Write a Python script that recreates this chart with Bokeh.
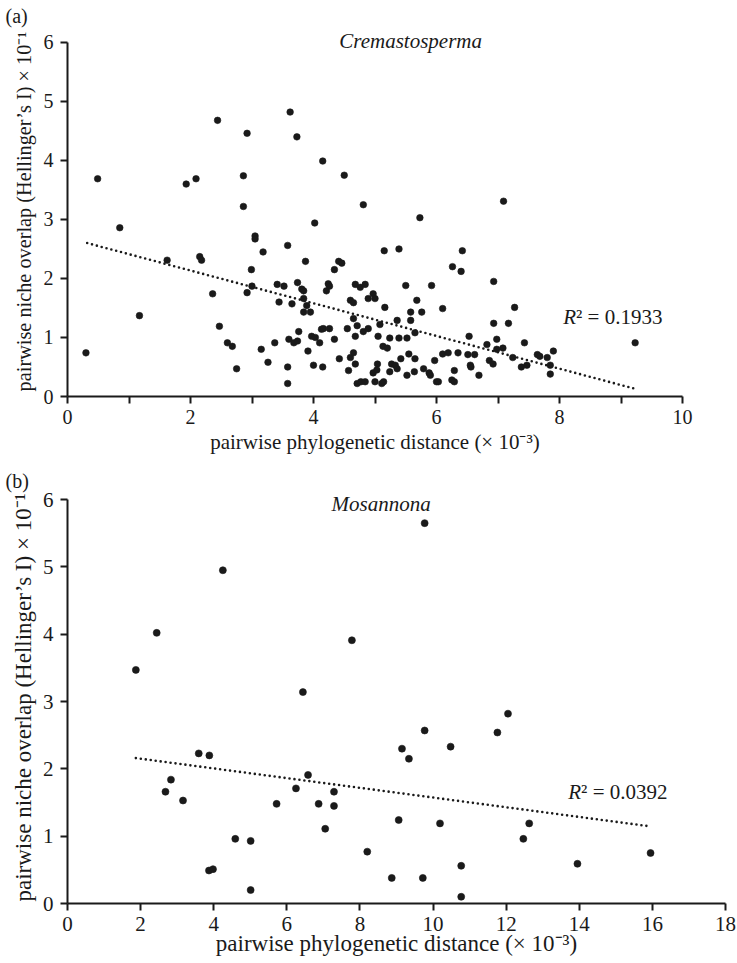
from bokeh.plotting import figure
from bokeh.layouts import column
from bokeh.models import Range1d, FixedTicker, Label
from bokeh.embed import file_html
from bokeh.resources import INLINE

# ---------------- data: (a) Cremastosperma ----------------
a_dist = [0.30, 0.49, 0.85, 1.17, 1.62, 1.93, 2.09, 2.15, 2.18, 2.36, 2.44, 2.47, 2.60, 2.68, 2.75,
          2.86, 2.86, 2.92, 2.92, 2.99, 3.00, 3.05, 3.05, 3.15, 3.18, 3.26, 3.37, 3.41, 3.44, 3.52,
          3.58, 3.58, 3.58, 3.60, 3.62, 3.65, 3.68, 3.74, 3.73, 3.74, 3.76, 3.81, 3.84, 3.84, 3.84,
          3.87, 3.89, 3.91, 3.95,
          3.97, 4.03, 4.00, 4.02, 4.10, 4.13, 4.16, 4.15, 4.15, 4.21, 4.24, 4.26, 4.26, 4.34, 4.34,
          4.41, 4.46, 4.42, 4.50, 4.55, 4.57, 4.60, 4.65, 4.60, 4.65, 4.65, 4.68, 4.76, 4.84, 4.68,
          4.71, 4.68, 4.71, 4.77, 4.84, 4.81, 4.81, 4.89, 4.89, 4.97, 5.00, 5.00, 4.97, 5.04, 5.03,
          5.05, 5.08, 5.11, 5.14, 5.15, 5.16, 5.13, 5.20, 5.24, 5.24, 5.27, 5.33, 5.36, 5.36, 5.39,
          5.39, 5.42, 5.50, 5.52, 5.52, 5.55, 5.58, 5.58, 5.64, 5.65, 5.65, 5.68, 5.73, 5.76, 5.79,
          5.88, 5.90, 5.92, 5.97, 6.00, 6.03, 6.10, 6.10, 6.19, 6.26, 6.25, 6.29, 6.29, 6.35, 6.40,
          6.42, 6.51, 6.62, 6.53, 6.55, 6.56, 6.69, 6.82, 6.86, 6.92, 6.93, 6.93, 6.98, 6.98, 7.08,
          7.09, 7.17, 7.27, 7.24, 7.38, 7.47, 7.43,
          7.64, 7.68, 7.80, 7.90, 7.85, 7.85, 9.23]
a_overlap = [0.74, 3.69, 2.86, 1.37, 2.31, 3.60, 3.69, 2.37, 2.31, 1.74, 4.68, 1.19, 0.91, 0.85, 0.47,
             3.74, 3.22, 4.46, 1.76, 2.15, 1.87, 2.72, 2.67, 0.80, 2.45, 0.58, 0.91, 1.90, 1.60, 1.87,
             2.56, 0.50, 0.22, 0.97, 4.82, 1.57, 0.91, 0.94, 4.40, 1.93, 1.10, 1.82, 1.79, 1.66, 1.43,
             2.29, 1.54, 0.77, 1.43,
             1.02, 1.00, 0.53, 2.94, 0.91, 1.14, 1.15, 3.99, 0.50, 1.79, 1.91, 1.87, 1.15, 0.97, 2.15,
             2.29, 2.26, 0.64, 3.75, 1.15, 0.44, 0.66, 0.74, 1.63, 1.59, 1.32, 1.90, 1.85, 1.90, 1.02,
             1.20, 0.55, 0.22, 0.25, 0.25, 3.25, 1.10, 1.15, 1.66, 1.74, 1.66, 0.25, 0.40, 0.55, 0.45,
             1.02, 1.22, 0.22, 0.25, 2.47, 1.51, 0.85, 0.82, 0.99, 0.42, 0.55, 0.53, 0.47, 1.29, 2.50,
             0.99, 0.64, 1.88, 0.99, 0.36, 0.72, 1.43, 1.29, 0.42, 1.08, 0.64, 1.63, 3.03, 1.43, 0.47,
             0.40, 0.36, 1.88, 0.61, 0.25, 0.25, 1.49, 0.72, 0.74, 2.20, 0.28, 0.25, 0.44, 0.74, 2.12,
             2.47, 0.71, 0.71, 1.02, 0.53, 0.50, 0.36, 0.88, 0.61, 0.55, 1.95, 1.24, 0.97, 0.80, 0.82,
             3.31, 1.24, 1.51, 0.66, 0.50, 0.53, 0.91,
             0.71, 0.68, 0.66, 0.77, 0.53, 0.38, 0.91]
a_trend_x = [0.32, 9.23]
a_trend_y = [2.60, 0.13]
a_xticks = [0, 2, 4, 6, 8, 10]
a_xminor = [1, 3, 5, 7, 9]
a_yticks = [0, 1, 2, 3, 4, 5, 6]

# ---------------- data: (b) Mosannona ----------------
b_dist = [1.87, 2.44, 4.25, 7.78, 6.44, 3.59, 3.88, 2.83, 2.68, 3.16, 6.58, 6.25, 5.72, 6.87,
          7.29, 7.29, 7.05, 4.59, 5.01, 3.87, 3.98, 5.01, 8.20, 12.05, 9.77, 11.76, 9.15, 9.34,
          10.48, 9.06, 10.19, 12.63, 12.47, 8.87, 9.72, 10.77, 10.77, 13.95, 15.95, 9.77]
b_overlap = [3.47, 4.02, 4.95, 3.91, 3.14, 2.23, 2.20, 1.84, 1.66, 1.53, 1.91, 1.71, 1.48, 1.48,
             1.66, 1.45, 1.11, 0.96, 0.93, 0.49, 0.51, 0.20, 0.77, 2.82, 2.57, 2.54, 2.30, 2.15,
             2.33, 1.24, 1.19, 1.19, 0.96, 0.38, 0.38, 0.56, 0.10, 0.59, 0.75, 5.65]
b_trend_x = [1.87, 15.88]
b_trend_y = [2.16, 1.15]
b_xticks = [0, 2, 4, 6, 8, 10, 12, 14, 16, 18]
b_yticks = [0, 1, 2, 3, 4, 5, 6]

x_title = "pairwise phylogenetic distance (\u00d7 10\u207b\u00b3)"
y_title = "pairwise niche overlap (Hellinger\u2019s I) \u00d7 10\u207b\u00b9"

SERIF = "Liberation Serif"
INK = "#1a1a1a"


def make_panel(xs, ys, tx, ty, xticks, xminor, yticks, xmax, ytop, fw, fh,
               bl, br, bt, bb, dot, letter, name, name_x, name_y,
               r2_text, r2_x, r2_y, tick_size, xlab_size, ylab_size,
               xlab_standoff, ylab_standoff):
    p = figure(frame_width=fw, frame_height=fh, output_backend="svg",
               toolbar_location=None, x_range=Range1d(0, xmax), y_range=Range1d(0, ytop),
               min_border_left=bl, min_border_right=br, min_border_top=bt,
               min_border_bottom=bb)
    p.outline_line_color = None
    p.background_fill_color = "white"
    p.border_fill_color = "white"
    p.grid.visible = False

    # panel letter as a left-aligned title pulled out over the axis area
    p.title.text = letter
    p.title.align = "left"
    p.title.offset = -62
    p.title.standoff = 0
    p.title.text_font = SERIF
    p.title.text_font_style = "normal"
    p.title.text_font_size = "20px"
    p.title.text_color = INK

    p.xaxis.ticker = FixedTicker(ticks=xticks, minor_ticks=xminor)
    p.yaxis.ticker = FixedTicker(ticks=yticks, minor_ticks=[])
    p.yaxis.bounds = (0, 6)
    for ax in (p.xaxis[0], p.yaxis[0]):
        ax.axis_line_width = 2
        ax.axis_line_color = INK
        ax.major_tick_line_width = 2
        ax.major_tick_line_color = INK
        ax.minor_tick_line_width = 2
        ax.minor_tick_line_color = INK
        ax.major_tick_in = 0
        ax.major_tick_out = 7
        ax.minor_tick_in = 0
        ax.minor_tick_out = 7
        ax.major_label_text_font = SERIF
        ax.major_label_text_font_size = f"{tick_size}px"
        ax.major_label_text_color = INK
        ax.axis_label_text_font = SERIF
        ax.axis_label_text_font_style = "normal"
        ax.axis_label_text_color = INK
    p.xaxis.axis_label = x_title
    p.yaxis.axis_label = y_title
    p.xaxis.axis_label_text_font_size = f"{xlab_size}px"
    p.yaxis.axis_label_text_font_size = f"{ylab_size}px"
    p.xaxis.major_label_standoff = 6
    p.yaxis.major_label_standoff = 7
    p.xaxis.axis_label_standoff = xlab_standoff
    p.yaxis.axis_label_standoff = ylab_standoff

    p.line(tx, ty, line_color=INK, line_width=2.6, line_dash="0 5", line_cap="round")
    p.scatter(xs, ys, size=dot, fill_color=INK, line_color=INK, line_width=0.6)

    # genus name
    p.add_layout(Label(x=name_x, y=name_y, text=name, text_font=SERIF,
                       text_font_style="italic", text_font_size="21px", text_color=INK,
                       text_align="center", text_baseline="middle"))
    # R^2 annotation
    p.add_layout(Label(x=r2_x, y=r2_y, text="R", text_font=SERIF, text_font_style="italic",
                       text_font_size="21px", text_color=INK, text_baseline="middle"))
    p.add_layout(Label(x=r2_x, y=r2_y, x_offset=12.8, text="\u00b2 = " + r2_text,
                       text_font=SERIF, text_font_size="21px", text_color=INK,
                       text_baseline="middle"))
    return p


pa = make_panel(a_dist, a_overlap, a_trend_x, a_trend_y, a_xticks, a_xminor, a_yticks,
                10, 6.27, 615, 370, 67, 50, 26, 58, 6.6, "(a)", "Cremastosperma", 5.58, 6.02,
                "0.1933", 8.06, 1.34, 20, 21, 20.3, 3, 6)

pb = make_panel(b_dist, b_overlap, b_trend_x, b_trend_y, b_xticks, [], b_yticks,
                18, 6.12, 658, 412, 67, 12, 35, 59, 7, "(b)", "Mosannona", 8.58, 5.94,
                "0.0392", 13.70, 1.66, 21, 23, 23, -3, 4)

layout = column(pa, pb, spacing=0)
open("out.html", "w").write(file_html(layout, INLINE))
